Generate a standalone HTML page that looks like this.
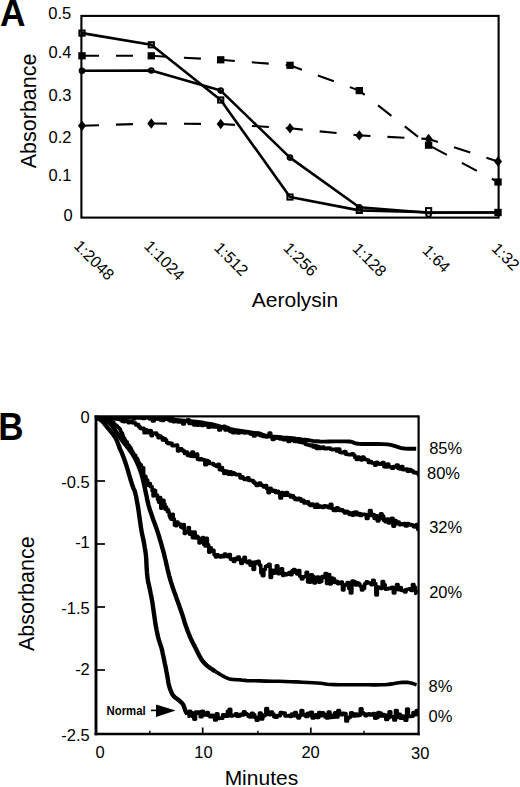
<!DOCTYPE html>
<html><head><meta charset="utf-8"><title>Aerolysin absorbance</title>
<style>
html,body{margin:0;padding:0;background:#fff;}
body{width:520px;height:787px;overflow:hidden;}
svg{display:block;}
text{font-family:"Liberation Sans",sans-serif;fill:#000;}
.t{font-size:16.5px;}
.tr{font-size:16px;}
.ax{font-size:21px;}
.axv{font-size:21.5px;}
.big{font-size:37px;font-weight:bold;}
.bigb{font-size:38.5px;font-weight:bold;}
.nm{font-size:12.5px;font-weight:bold;}
</style></head>
<body>
<svg width="520" height="787" viewBox="0 0 520 787">
<rect width="520" height="787" fill="#fff"/>
<g id="chartA">
<rect x="81.4" y="15.9" width="417.2" height="201.7" fill="none" stroke="#000" stroke-width="2.1"/>
<polyline points="82.0,55.8 151.3,55.8 220.7,59.8 290.0,65.3 359.3,90.6 428.6,145.2 498.0,182.0" fill="none" stroke="#000" stroke-width="2.1" stroke-dasharray="17 17"/>
<polyline points="82.0,125.8 151.3,123.5 220.7,124.0 290.0,128.3 359.3,135.4 428.6,139.0 498.0,161.5" fill="none" stroke="#000" stroke-width="2.1" stroke-dasharray="17 17"/>
<polyline points="82.0,33.1 151.3,44.8 220.7,100.0 290.0,197.0 359.3,210.4 428.6,212.3 498.0,212.5" fill="none" stroke="#000" stroke-width="2.6" stroke-linejoin="round"/>
<polyline points="82.0,70.8 151.3,70.5 220.7,90.6 290.0,157.6 359.3,207.3 428.6,212.8 498.0,212.5" fill="none" stroke="#000" stroke-width="2.6" stroke-linejoin="round"/>
<rect x="78.3" y="52.2" width="7.4" height="7.2" fill="#000"/>
<rect x="147.6" y="52.2" width="7.4" height="7.2" fill="#000"/>
<rect x="217.0" y="56.2" width="7.4" height="7.2" fill="#000"/>
<rect x="286.3" y="61.7" width="7.4" height="7.2" fill="#000"/>
<rect x="355.6" y="87.0" width="7.4" height="7.2" fill="#000"/>
<rect x="424.9" y="141.6" width="7.4" height="7.2" fill="#000"/>
<rect x="494.3" y="178.4" width="7.4" height="7.2" fill="#000"/>
<path d="M82.0 120.6L86.0 125.8L82.0 131.0L78.0 125.8Z" fill="#000"/>
<path d="M151.3 118.3L155.3 123.5L151.3 128.7L147.3 123.5Z" fill="#000"/>
<path d="M220.7 118.8L224.7 124.0L220.7 129.2L216.7 124.0Z" fill="#000"/>
<path d="M290.0 123.1L294.0 128.3L290.0 133.5L286.0 128.3Z" fill="#000"/>
<path d="M359.3 130.2L363.3 135.4L359.3 140.6L355.3 135.4Z" fill="#000"/>
<path d="M428.6 133.8L432.6 139.0L428.6 144.2L424.6 139.0Z" fill="#000"/>
<path d="M498.0 156.3L502.0 161.5L498.0 166.7L494.0 161.5Z" fill="#000"/>
<rect x="79.4" y="30.5" width="5.2" height="5.2" fill="none" stroke="#000" stroke-width="2.0"/>
<rect x="148.7" y="42.2" width="5.2" height="5.2" fill="none" stroke="#000" stroke-width="2.0"/>
<rect x="218.1" y="97.4" width="5.2" height="5.2" fill="none" stroke="#000" stroke-width="2.0"/>
<rect x="287.4" y="194.4" width="5.2" height="5.2" fill="none" stroke="#000" stroke-width="2.0"/>
<rect x="356.7" y="207.8" width="5.2" height="5.2" fill="none" stroke="#000" stroke-width="2.0"/>
<rect x="426.0" y="208.1" width="5.2" height="5.2" fill="#fff" stroke="#000" stroke-width="2.0"/>
<rect x="494.3" y="208.8" width="7.4" height="7.4" fill="#000"/>
<circle cx="82.0" cy="70.8" r="2.35" fill="none" stroke="#000" stroke-width="1.9"/>
<circle cx="151.3" cy="70.5" r="2.35" fill="none" stroke="#000" stroke-width="1.9"/>
<circle cx="220.7" cy="90.6" r="2.35" fill="none" stroke="#000" stroke-width="1.9"/>
<circle cx="290.0" cy="157.6" r="2.35" fill="none" stroke="#000" stroke-width="1.9"/>
<circle cx="359.3" cy="207.3" r="2.35" fill="none" stroke="#000" stroke-width="1.9"/>
<circle cx="428.6" cy="214.4" r="2.35" fill="none" stroke="#000" stroke-width="1.9"/>
<text x="71.3" y="18.8" text-anchor="end" class="t">0.5</text>
<text x="71.4" y="57.5" text-anchor="end" class="t">0.4</text>
<text x="71.4" y="100.6" text-anchor="end" class="t">0.3</text>
<text x="71.4" y="142.5" text-anchor="end" class="t">0.2</text>
<text x="71.4" y="181.2" text-anchor="end" class="t">0.1</text>
<text x="72.8" y="220.7" text-anchor="end" class="t">0</text>
<text transform="translate(72.9,246.7) rotate(45)" class="tr">1:2048</text>
<text transform="translate(143.2,247.0) rotate(45)" class="tr">1:1024</text>
<text transform="translate(213.3,248.8) rotate(45)" class="tr">1:512</text>
<text transform="translate(282.4,248.9) rotate(45)" class="tr">1:256</text>
<text transform="translate(351.5,249.5) rotate(45)" class="tr">1:128</text>
<text transform="translate(421.5,251.5) rotate(45)" class="tr">1:64</text>
<text transform="translate(490.8,249.4) rotate(45)" class="tr">1:32</text>
<text x="295" y="307.4" text-anchor="middle" class="ax">Aerolysin</text>
<text transform="translate(35.8,110.9) rotate(-90)" text-anchor="middle" class="axv">Absorbance</text>
<text transform="translate(0.1,26.1) scale(0.955,1)" class="big">A</text>
</g>
<g id="chartB">
<line x1="96.0" y1="481" x2="105" y2="481" stroke="#000" stroke-width="1.7"/>
<line x1="96.0" y1="544" x2="105" y2="544" stroke="#000" stroke-width="1.7"/>
<line x1="96.0" y1="607" x2="105" y2="607" stroke="#000" stroke-width="1.7"/>
<line x1="96.0" y1="670" x2="105" y2="670" stroke="#000" stroke-width="1.7"/>
<line x1="202.7" y1="734" x2="202.7" y2="727.5" stroke="#000" stroke-width="1.7"/>
<line x1="310.8" y1="734" x2="310.8" y2="727.5" stroke="#000" stroke-width="1.7"/>
<line x1="149.8" y1="734" x2="149.8" y2="730.8" stroke="#000" stroke-width="1.4"/>
<line x1="257.9" y1="734" x2="257.9" y2="730.8" stroke="#000" stroke-width="1.4"/>
<line x1="364.0" y1="734" x2="364.0" y2="730.8" stroke="#000" stroke-width="1.4"/>
<clipPath id="cb"><rect x="96" y="416.4" width="322.6" height="318"/></clipPath><g clip-path="url(#cb)">
<polyline points="96.5,417.0 99.6,417.0 104.0,417.0 109.2,417.0 114.7,417.0 120.1,417.0 125.0,417.1 129.0,417.1 132.5,417.1 135.9,417.1 139.7,417.2 144.2,417.4 150.0,417.8 157.6,418.4 166.8,419.1 176.8,420.0 186.8,420.9 196.1,421.8 203.8,422.8 209.7,423.8 214.5,424.8 218.5,425.9 222.2,427.0 225.9,428.1 230.0,429.0 234.7,429.9 239.7,430.7 244.8,431.5 249.7,432.2 254.0,432.9 257.7,433.5 260.4,434.0 262.2,434.5 263.5,434.9 264.7,435.3 266.3,435.6 268.5,436.0 271.5,436.4 275.0,436.7 278.9,437.0 282.8,437.4 286.6,437.7 290.0,438.0 293.1,438.3 296.1,438.7 299.0,439.0 301.8,439.4 304.5,439.7 307.0,440.0 309.2,440.3 311.0,440.6 312.8,440.9 314.6,441.1 317.0,441.3 320.0,441.5 324.1,441.6 329.1,441.5 334.6,441.4 340.0,441.4 344.9,441.4 348.8,441.5 351.3,441.8 352.7,442.2 353.6,442.6 354.6,443.1 356.0,443.5 358.5,443.8 362.3,444.0 367.2,444.0 372.5,444.0 378.0,444.0 383.1,444.1 387.3,444.4 390.7,444.9 393.5,445.6 396.0,446.4 398.2,447.1 400.4,447.8 402.7,448.3 405.2,448.6 407.8,448.7 410.4,448.7 412.8,448.7 414.8,448.7 416.2,448.7" fill="none" stroke="#000" stroke-width="3.9" stroke-linejoin="round"/>
<polyline points="96.5,419.0 98.1,419.0 98.1,417.4 99.7,417.4 99.7,416.6 101.3,416.6 101.3,415.0 102.9,415.0 102.9,416.2 104.5,416.2 104.5,417.3 106.1,417.3 106.1,416.8 107.7,416.8 107.7,416.0 109.3,416.0 109.3,417.6 110.9,417.6 110.9,418.1 112.5,418.1 112.5,417.1 114.1,417.1 114.1,417.7 115.7,417.7 115.7,417.0 117.3,417.0 117.3,419.1 118.9,419.1 118.9,417.0 120.5,417.0 120.5,416.3 122.1,416.3 122.1,418.1 123.7,418.1 123.7,417.4 125.3,417.4 125.3,415.1 126.9,415.1 126.9,416.4 128.5,416.4 128.5,417.6 130.1,417.6 130.1,416.9 131.7,416.9 131.7,417.4 133.3,417.4 133.3,418.8 134.9,418.8 134.9,417.6 136.5,417.6 136.5,417.2 138.1,417.2 138.1,418.0 139.7,418.0 139.7,417.3 141.3,417.3 141.3,417.8 142.9,417.8 142.9,418.4 144.5,418.4 144.5,416.1 146.1,416.1 146.1,416.9 147.7,416.9 147.7,416.0 149.3,416.0 149.3,418.8 150.9,418.8 150.9,416.1 152.5,416.1 152.5,421.0 154.1,421.0 154.1,417.4 155.6,417.4 155.6,417.7 157.2,417.7 157.2,418.9 158.8,418.9 158.8,417.3 160.4,417.3 160.4,419.9 162.0,419.9 162.0,420.5 163.6,420.5 163.6,416.7 165.2,416.7 165.2,418.9 166.8,418.9 166.8,418.4 168.4,418.4 168.4,419.7 170.0,419.7 170.0,420.8 171.6,420.8 171.6,418.6 173.2,418.6 173.2,421.7 174.7,421.7 174.7,420.9 176.3,420.9 176.3,421.2 177.9,421.2 177.9,421.9 179.5,421.9 179.5,421.4 181.1,421.4 181.1,421.9 182.7,421.9 182.7,423.8 184.3,423.8 184.3,421.1 185.9,421.1 185.9,421.3 187.5,421.3 187.5,419.9 189.1,419.9 189.1,423.4 190.6,423.4 190.6,421.6 192.2,421.6 192.2,422.8 193.8,422.8 193.8,425.0 195.4,425.0 195.4,423.9 197.0,423.9 197.0,425.1 198.6,425.1 198.6,424.9 200.2,424.9 200.2,423.6 201.7,423.6 201.7,425.5 203.3,425.5 203.3,423.9 204.9,423.9 204.9,425.0 206.5,425.0 206.5,423.8 208.1,423.8 208.1,427.2 209.6,427.2 209.6,424.8 211.2,424.8 211.2,424.3 212.8,424.3 212.8,426.9 214.3,426.9 214.3,426.7 215.9,426.7 215.9,426.9 217.4,426.9 217.4,426.9 218.9,426.9 218.9,429.9 220.5,429.9 220.5,427.6 222.0,427.6 222.0,428.2 223.6,428.2 223.6,426.3 225.1,426.3 225.1,430.0 226.7,430.0 226.7,427.7 228.2,427.7 228.2,429.6 229.8,429.6 229.8,431.3 231.4,431.3 231.4,431.8 232.9,431.8 232.9,432.7 234.5,432.7 234.5,431.2 236.1,431.2 236.1,431.0 237.7,431.0 237.7,432.9 239.2,432.9 239.2,432.1 240.8,432.1 240.8,432.5 242.4,432.5 242.4,432.0 244.0,432.0 244.0,432.8 245.6,432.8 245.6,432.4 247.1,432.4 247.1,432.7 248.7,432.7 248.7,432.9 250.3,432.9 250.3,434.0 251.9,434.0 251.9,434.2 253.5,434.2 253.5,435.9 255.0,435.9 255.0,434.7 256.6,434.7 256.6,433.2 258.2,433.2 258.2,433.3 259.8,433.3 259.8,435.4 261.3,435.4 261.3,435.7 262.9,435.7 262.9,436.5 264.4,436.5 264.4,436.5 266.0,436.5 266.0,436.9 267.5,436.9 267.5,436.5 269.1,436.5 269.1,433.2 270.7,433.2 270.7,436.6 272.3,436.6 272.3,439.3 273.9,439.3 273.9,438.3 275.5,438.3 275.5,437.3 277.1,437.3 277.1,438.0 278.7,438.0 278.7,438.4 280.2,438.4 280.2,438.9 281.8,438.9 281.8,438.8 283.4,438.8 283.4,439.7 285.0,439.7 285.0,438.2 286.6,438.2 286.6,439.4 288.2,439.4 288.2,441.5 289.8,441.5 289.8,439.0 291.3,439.0 291.3,440.2 292.9,440.2 292.9,440.4 294.5,440.4 294.5,441.4 296.0,441.4 296.0,441.4 297.6,441.4 297.6,441.1 299.2,441.1 299.2,442.1 300.7,442.1 300.7,441.2 302.3,441.2 302.3,442.7 303.8,442.7 303.8,442.3 305.3,442.3 305.3,444.2 306.9,444.2 306.9,444.7 308.5,444.7 308.5,445.1 310.0,445.1 310.0,445.6 311.5,445.6 311.5,445.1 313.1,445.1 313.1,446.9 314.6,446.9 314.6,445.6 316.2,445.6 316.2,448.3 317.7,448.3 317.7,446.7 319.3,446.7 319.3,448.4 320.9,448.4 320.9,447.8 322.4,447.8 322.4,447.0 324.0,447.0 324.0,448.6 325.6,448.6 325.6,448.6 327.2,448.6 327.2,448.1 328.7,448.1 328.7,448.1 330.3,448.1 330.3,449.2 331.9,449.2 331.9,449.6 333.4,449.6 333.4,449.3 335.0,449.3 335.0,449.0 336.6,449.0 336.6,450.9 338.1,450.9 338.1,449.2 339.7,449.2 339.7,452.2 341.2,452.2 341.2,452.7 342.7,452.7 342.7,452.3 344.2,452.3 344.2,451.5 345.8,451.5 345.8,454.2 347.3,454.2 347.3,454.4 348.8,454.4 348.8,454.7 350.3,454.7 350.3,454.6 351.8,454.6 351.8,453.9 353.3,453.9 353.3,455.0 354.8,455.0 354.8,457.3 356.3,457.3 356.3,459.3 357.8,459.3 357.8,457.0 359.3,457.0 359.3,458.5 360.8,458.5 360.8,459.8 362.4,459.8 362.4,457.0 363.9,457.0 363.9,459.0 365.4,459.0 365.4,459.5 366.9,459.5 366.9,460.0 368.5,460.0 368.5,462.5 370.0,462.5 370.0,461.5 371.5,461.5 371.5,462.8 373.1,462.8 373.1,463.1 374.6,463.1 374.6,465.1 376.1,465.1 376.1,462.4 377.7,462.4 377.7,463.3 379.2,463.3 379.2,464.2 380.8,464.2 380.8,463.8 382.4,463.8 382.4,462.5 383.9,462.5 383.9,466.6 385.5,466.6 385.5,466.9 387.1,466.9 387.1,464.0 388.7,464.0 388.7,466.6 390.2,466.6 390.2,467.0 391.8,467.0 391.8,468.2 393.4,468.2 393.4,466.7 395.0,466.7 395.0,466.9 396.5,466.9 396.5,465.0 398.1,465.0 398.1,468.3 399.7,468.3 399.7,468.9 401.2,468.9 401.2,466.5 402.8,466.5 402.8,469.6 404.3,469.6 404.3,469.7 405.9,469.7 405.9,469.1 407.5,469.1 407.5,471.2 409.0,471.2 409.0,469.7 410.6,469.7 410.6,470.4 412.1,470.4 412.1,471.4 413.7,471.4 413.7,472.7 415.2,472.7 415.2,472.7 416.8,472.7 416.8,473.2 418.4,473.2 418.4,474.8 418.3,472.5" fill="none" stroke="#000" stroke-width="3.7" stroke-linejoin="round"/>
<polyline points="96.5,416.7 98.1,416.7 98.1,416.6 99.7,416.6 99.7,417.7 101.3,417.7 101.3,417.9 102.9,417.9 102.9,418.1 104.5,418.1 104.5,419.8 106.1,419.8 106.1,418.7 107.7,418.7 107.7,420.8 109.3,420.8 109.3,419.6 110.9,419.6 110.9,417.4 112.4,417.4 112.4,417.9 114.0,417.9 114.0,418.8 115.6,418.8 115.6,417.0 117.2,417.0 117.2,418.3 118.8,418.3 118.8,417.0 120.4,417.0 120.4,420.0 122.0,420.0 122.0,421.2 123.5,421.2 123.5,421.6 125.1,421.6 125.1,419.6 126.6,419.6 126.6,420.9 128.2,420.9 128.2,422.6 129.7,422.6 129.7,421.3 131.2,421.3 131.2,421.8 132.7,421.8 132.7,422.8 134.2,422.8 134.2,423.0 135.7,423.0 135.7,424.8 137.1,424.8 137.1,424.5 138.6,424.5 138.6,426.6 139.9,426.6 139.9,428.1 141.3,428.1 141.3,428.7 142.7,428.7 142.7,428.3 144.1,428.3 144.1,432.7 145.5,432.7 145.5,429.9 146.9,429.9 146.9,430.8 148.3,430.8 148.3,432.7 149.7,432.7 149.7,430.5 151.1,430.5 151.1,435.6 152.4,435.6 152.4,433.2 153.8,433.2 153.8,433.4 155.2,433.4 155.2,433.1 156.6,433.1 156.6,434.8 158.1,434.8 158.1,437.6 159.5,437.6 159.5,436.2 160.9,436.2 160.9,437.4 162.4,437.4 162.4,440.0 163.8,440.0 163.8,438.5 165.2,438.5 165.2,440.2 166.6,440.2 166.6,442.5 168.0,442.5 168.0,443.6 169.4,443.6 169.4,443.2 170.7,443.2 170.7,443.4 172.1,443.4 172.1,445.6 173.4,445.6 173.4,445.6 174.8,445.6 174.8,445.4 176.2,445.4 176.2,445.2 177.6,445.2 177.6,450.8 178.9,450.8 178.9,449.2 180.3,449.2 180.3,448.9 181.8,448.9 181.8,450.1 183.2,450.1 183.2,451.2 184.6,451.2 184.6,453.4 186.1,453.4 186.1,452.1 187.5,452.1 187.5,455.3 189.0,455.3 189.0,454.2 190.4,454.2 190.4,456.1 191.9,456.1 191.9,452.0 193.3,452.0 193.3,456.4 194.7,456.4 194.7,454.8 196.2,454.8 196.2,454.2 197.6,454.2 197.6,459.2 199.1,459.2 199.1,459.7 200.5,459.7 200.5,458.9 202.0,458.9 202.0,459.7 203.4,459.7 203.4,459.9 204.9,459.9 204.9,464.7 206.3,464.7 206.3,460.7 207.8,460.7 207.8,461.4 209.2,461.4 209.2,463.4 210.7,463.4 210.7,463.5 212.1,463.5 212.1,463.7 213.6,463.7 213.6,464.8 215.0,464.8 215.0,465.5 216.5,465.5 216.5,466.3 218.0,466.3 218.0,464.3 219.4,464.3 219.4,469.6 220.9,469.6 220.9,467.7 222.4,467.7 222.4,470.5 223.8,470.5 223.8,473.3 225.3,473.3 225.3,471.1 226.8,471.1 226.8,471.6 228.3,471.6 228.3,474.2 229.8,474.2 229.8,471.9 231.3,471.9 231.3,474.3 232.8,474.3 232.8,472.9 234.2,472.9 234.2,473.9 235.7,473.9 235.7,474.6 237.2,474.6 237.2,474.5 238.7,474.5 238.7,474.7 240.1,474.7 240.1,477.8 241.5,477.8 241.5,476.9 243.0,476.9 243.0,478.5 244.4,478.5 244.4,479.4 245.9,479.4 245.9,478.5 247.4,478.5 247.4,477.9 248.8,477.9 248.8,480.4 250.3,480.4 250.3,480.3 251.8,480.3 251.8,480.5 253.3,480.5 253.3,482.2 254.8,482.2 254.8,483.4 256.2,483.4 256.2,485.5 257.7,485.5 257.7,484.5 259.2,484.5 259.2,483.1 260.7,483.1 260.7,485.1 262.2,485.1 262.2,485.6 263.6,485.6 263.6,486.9 265.1,486.9 265.1,485.6 266.6,485.6 266.6,488.5 268.1,488.5 268.1,492.6 269.6,492.6 269.6,488.3 271.1,488.3 271.1,490.2 272.6,490.2 272.6,491.1 274.1,491.1 274.1,490.5 275.5,490.5 275.5,492.4 277.0,492.4 277.0,491.4 278.5,491.4 278.5,493.1 280.0,493.1 280.0,498.0 281.5,498.0 281.5,492.5 283.0,492.5 283.0,494.0 284.5,494.0 284.5,495.2 286.0,495.2 286.0,492.7 287.5,492.7 287.5,495.2 289.0,495.2 289.0,495.0 290.5,495.0 290.5,496.9 292.0,496.9 292.0,495.9 293.5,495.9 293.5,497.7 295.0,497.7 295.0,499.4 296.5,499.4 296.5,499.6 298.0,499.6 298.0,498.4 299.5,498.4 299.5,498.9 301.0,498.9 301.0,501.1 302.5,501.1 302.5,500.4 304.0,500.4 304.0,503.0 305.5,503.0 305.5,502.2 307.0,502.2 307.0,501.9 308.5,501.9 308.5,504.1 310.1,504.1 310.1,505.4 311.6,505.4 311.6,504.1 313.1,504.1 313.1,504.9 314.7,504.9 314.7,507.2 316.2,507.2 316.2,504.4 317.7,504.4 317.7,507.1 319.3,507.1 319.3,506.0 320.8,506.0 320.8,506.8 322.4,506.8 322.4,507.4 323.9,507.4 323.9,505.8 325.5,505.8 325.5,506.0 327.1,506.0 327.1,507.0 328.6,507.0 328.6,507.7 330.2,507.7 330.2,504.4 331.8,504.4 331.8,508.4 333.3,508.4 333.3,510.3 334.9,510.3 334.9,510.4 336.5,510.4 336.5,507.9 338.1,507.9 338.1,509.2 339.6,509.2 339.6,510.5 341.2,510.5 341.2,509.8 342.8,509.8 342.8,511.1 344.4,511.1 344.4,512.8 345.9,512.8 345.9,511.3 347.5,511.3 347.5,512.3 349.1,512.3 349.1,514.3 350.7,514.3 350.7,513.2 352.2,513.2 352.2,515.1 353.8,515.1 353.8,512.4 355.4,512.4 355.4,512.2 356.9,512.2 356.9,514.7 358.5,514.7 358.5,513.7 360.1,513.7 360.1,515.4 361.6,515.4 361.6,514.4 363.2,514.4 363.2,514.3 364.8,514.3 364.8,514.6 366.4,514.6 366.4,518.4 367.9,518.4 367.9,515.6 369.5,515.6 369.5,510.7 371.1,510.7 371.1,515.5 372.6,515.5 372.6,514.5 374.2,514.5 374.2,518.3 375.8,518.3 375.8,515.8 377.3,515.8 377.3,520.8 378.9,520.8 378.9,518.5 380.5,518.5 380.5,513.8 382.0,513.8 382.0,516.2 383.6,516.2 383.6,520.2 385.2,520.2 385.2,521.7 386.7,521.7 386.7,519.2 388.3,519.2 388.3,522.8 389.9,522.8 389.9,520.5 391.4,520.5 391.4,518.3 393.0,518.3 393.0,526.1 394.5,526.1 394.5,520.7 396.1,520.7 396.1,523.7 397.7,523.7 397.7,522.2 399.2,522.2 399.2,524.6 400.8,524.6 400.8,523.8 402.3,523.8 402.3,524.6 403.9,524.6 403.9,523.5 405.5,523.5 405.5,525.9 407.0,525.9 407.0,523.7 408.6,523.7 408.6,525.0 410.1,525.0 410.1,524.5 411.7,524.5 411.7,525.0 413.3,525.0 413.3,526.6 414.8,526.6 414.8,527.0 416.4,527.0 416.4,524.7 417.9,524.7 417.9,529.5 418.3,527.1" fill="none" stroke="#000" stroke-width="3.7" stroke-linejoin="round"/>
<polyline points="96.5,417.1 98.1,417.1 98.1,417.5 99.7,417.5 99.7,418.4 101.3,418.4 101.3,417.7 102.9,417.7 102.9,419.1 104.4,419.1 104.4,418.0 106.0,418.0 106.0,419.9 107.5,419.9 107.5,418.7 108.9,418.7 108.9,419.6 110.4,419.6 110.4,420.7 111.7,420.7 111.7,422.1 112.9,422.1 112.9,422.6 114.0,422.6 114.0,424.4 115.2,424.4 115.2,425.0 116.3,425.0 116.3,426.1 117.5,426.1 117.5,427.3 118.6,427.3 118.6,428.3 119.6,428.3 119.6,429.2 120.4,429.2 120.4,431.2 121.1,431.2 121.1,433.1 121.7,433.1 121.7,433.0 122.4,433.0 122.4,434.9 123.1,434.9 123.1,436.9 123.8,436.9 123.8,438.2 124.7,438.2 124.7,440.2 125.6,440.2 125.6,441.4 126.5,441.4 126.5,442.1 127.4,442.1 127.4,444.4 128.3,444.4 128.3,445.3 129.2,445.3 129.2,446.7 130.1,446.7 130.1,447.6 130.8,447.6 130.8,449.1 131.5,449.1 131.5,450.8 132.2,450.8 132.2,451.8 133.0,451.8 133.0,453.4 133.9,453.4 133.9,455.1 134.8,455.1 134.8,455.3 135.7,455.3 135.7,457.8 136.5,457.8 136.5,458.1 137.2,458.1 137.2,459.5 138.0,459.5 138.0,461.8 138.7,461.8 138.7,462.8 139.4,462.8 139.4,464.1 140.1,464.1 140.1,468.5 140.7,468.5 140.7,464.7 141.4,464.7 141.4,468.3 142.0,468.3 142.0,470.7 142.6,470.7 142.6,470.7 143.1,470.7 143.1,467.7 143.7,467.7 143.7,474.9 144.2,474.9 144.2,481.7 144.8,481.7 144.8,476.7 145.4,476.7 145.4,476.5 146.0,476.5 146.0,479.4 146.8,479.4 146.8,480.1 147.7,480.1 147.7,485.5 148.6,485.5 148.6,485.5 149.5,485.5 149.5,483.6 150.4,483.6 150.4,486.7 151.3,486.7 151.3,486.6 152.1,486.6 152.1,490.9 153.0,490.9 153.0,496.0 153.9,496.0 153.9,490.0 154.7,490.0 154.7,490.5 155.6,490.5 155.6,495.6 156.6,495.6 156.6,494.9 157.5,494.9 157.5,499.6 158.5,499.6 158.5,502.3 159.6,502.3 159.6,497.5 160.7,497.5 160.7,508.2 161.8,508.2 161.8,505.5 162.9,505.5 162.9,500.2 164.0,500.2 164.0,504.0 165.0,504.0 165.0,509.2 165.9,509.2 165.9,506.9 166.6,506.9 166.6,509.5 167.3,509.5 167.3,511.8 167.9,511.8 167.9,509.7 168.5,509.7 168.5,512.1 169.2,512.1 169.2,516.0 170.0,516.0 170.0,518.1 171.0,518.1 171.0,519.3 172.1,519.3 172.1,514.3 173.3,514.3 173.3,519.1 174.4,519.1 174.4,525.2 175.6,525.2 175.6,525.7 176.8,525.7 176.8,522.0 178.0,522.0 178.0,524.0 179.3,524.0 179.3,523.9 180.6,523.9 180.6,527.0 181.8,527.0 181.8,527.8 183.1,527.8 183.1,524.5 184.3,524.5 184.3,533.5 185.5,533.5 185.5,532.5 186.8,532.5 186.8,531.4 188.1,531.4 188.1,527.5 189.4,527.5 189.4,534.2 190.9,534.2 190.9,532.1 192.3,532.1 192.3,537.7 193.8,537.7 193.8,532.1 195.2,532.1 195.2,537.9 196.5,537.9 196.5,536.3 197.8,536.3 197.8,537.5 199.0,537.5 199.0,543.0 200.2,543.0 200.2,542.2 201.4,542.2 201.4,540.3 202.5,540.3 202.5,537.5 203.7,537.5 203.7,544.6 204.9,544.6 204.9,546.1 206.1,546.1 206.1,538.3 207.4,538.3 207.4,544.8 208.7,544.8 208.7,552.3 210.0,552.3 210.0,547.7 211.3,547.7 211.3,551.3 212.6,551.3 212.6,550.3 214.0,550.3 214.0,554.7 215.4,554.7 215.4,557.1 216.8,557.1 216.8,554.7 218.3,554.7 218.3,556.5 219.8,556.5 219.8,557.1 221.3,557.1 221.3,555.6 222.8,555.6 222.8,556.8 224.4,556.8 224.4,553.9 225.9,553.9 225.9,556.0 227.4,556.0 227.4,556.7 228.9,556.7 228.9,554.6 230.4,554.6 230.4,559.2 231.8,559.2 231.8,558.9 233.3,558.9 233.3,561.6 234.8,561.6 234.8,558.5 236.2,558.5 236.2,559.5 237.7,559.5 237.7,557.1 239.3,557.1 239.3,559.8 240.8,559.8 240.8,563.4 242.3,563.4 242.3,561.4 243.9,561.4 243.9,557.3 245.4,557.3 245.4,561.5 247.0,561.5 247.0,562.7 248.5,562.7 248.5,560.9 250.0,560.9 250.0,565.2 251.5,565.2 251.5,562.3 253.0,562.3 253.0,569.4 254.6,569.4 254.6,562.0 256.1,562.0 256.1,563.3 257.7,563.3 257.7,561.3 259.2,561.3 259.2,565.0 260.8,565.0 260.8,572.9 262.3,572.9 262.3,575.7 263.9,575.7 263.9,569.6 265.4,569.6 265.4,566.5 267.0,566.5 267.0,565.5 268.5,565.5 268.5,564.2 270.1,564.2 270.1,577.5 271.6,577.5 271.6,570.3 273.2,570.3 273.2,573.2 274.8,573.2 274.8,570.2 276.3,570.2 276.3,565.7 277.9,565.7 277.9,573.8 279.4,573.8 279.4,570.4 281.0,570.4 281.0,568.8 282.6,568.8 282.6,575.5 284.1,575.5 284.1,573.4 285.7,573.4 285.7,574.7 287.3,574.7 287.3,574.2 288.8,574.2 288.8,572.6 290.4,572.6 290.4,574.8 292.0,574.8 292.0,570.4 293.5,570.4 293.5,569.5 295.1,569.5 295.1,572.5 296.7,572.5 296.7,573.9 298.2,573.9 298.2,570.4 299.8,570.4 299.8,576.4 301.4,576.4 301.4,578.9 302.9,578.9 302.9,576.9 304.5,576.9 304.5,576.2 306.1,576.2 306.1,572.2 307.6,572.2 307.6,582.1 309.2,582.1 309.2,582.2 310.8,582.2 310.8,574.7 312.4,574.7 312.4,576.6 313.9,576.6 313.9,583.0 315.5,583.0 315.5,577.4 317.1,577.4 317.1,576.9 318.7,576.9 318.7,582.3 320.2,582.3 320.2,581.6 321.8,581.6 321.8,576.4 323.4,576.4 323.4,577.6 325.0,577.6 325.0,573.5 326.5,573.5 326.5,583.4 328.1,583.4 328.1,574.6 329.7,574.6 329.7,584.0 331.3,584.0 331.3,577.9 332.9,577.9 332.9,578.7 334.4,578.7 334.4,582.6 336.0,582.6 336.0,581.3 337.6,581.3 337.6,583.8 339.2,583.8 339.2,582.6 340.8,582.6 340.8,582.1 342.4,582.1 342.4,590.0 344.0,590.0 344.0,585.4 345.5,585.4 345.5,584.5 347.1,584.5 347.1,582.6 348.7,582.6 348.7,588.4 350.3,588.4 350.3,592.9 351.9,592.9 351.9,580.9 353.5,580.9 353.5,581.4 355.1,581.4 355.1,585.0 356.7,585.0 356.7,582.7 358.2,582.7 358.2,583.8 359.8,583.8 359.8,586.1 361.4,586.1 361.4,590.0 363.0,590.0 363.0,588.4 364.6,588.4 364.6,583.7 366.2,583.7 366.2,581.7 367.8,581.7 367.8,582.9 369.4,582.9 369.4,582.9 371.0,582.9 371.0,584.7 372.6,584.7 372.6,580.2 374.2,580.2 374.2,583.6 375.8,583.6 375.8,595.0 377.4,595.0 377.4,587.0 378.9,587.0 378.9,587.5 380.5,587.5 380.5,588.4 382.1,588.4 382.1,581.5 383.7,581.5 383.7,584.8 385.3,584.8 385.3,589.2 386.9,589.2 386.9,588.9 388.5,588.9 388.5,588.3 390.1,588.3 390.1,588.6 391.7,588.6 391.7,587.2 393.3,587.2 393.3,593.0 394.9,593.0 394.9,588.9 396.5,588.9 396.5,584.4 398.1,584.4 398.1,589.8 399.7,589.8 399.7,587.4 401.3,587.4 401.3,590.6 402.9,590.6 402.9,590.5 404.5,590.5 404.5,592.1 406.0,592.1 406.0,589.6 407.6,589.6 407.6,589.2 409.2,589.2 409.2,588.7 410.8,588.7 410.8,590.4 412.4,590.4 412.4,584.5 414.0,584.5 414.0,587.2 415.6,587.2 415.6,593.4 417.0,589.8" fill="none" stroke="#000" stroke-width="3.5" stroke-linejoin="round"/>
<polyline points="96.5,417.5 97.0,417.6 97.6,417.7 98.4,417.8 99.3,417.9 100.1,418.1 101.0,418.3 101.9,418.6 102.8,418.8 103.7,419.2 104.7,419.5 105.6,420.0 106.5,420.5 107.4,421.1 108.2,421.7 109.1,422.5 109.9,423.3 110.7,424.1 111.5,425.0 112.3,426.0 113.1,427.1 113.8,428.3 114.6,429.5 115.3,430.7 116.0,431.7 116.6,432.6 117.3,433.4 117.8,434.1 118.4,434.8 119.0,435.6 119.5,436.3 120.0,437.1 120.5,437.8 121.0,438.6 121.5,439.4 122.0,440.1 122.5,440.9 123.1,441.7 123.7,442.5 124.4,443.3 125.0,444.1 125.7,444.8 126.2,445.5 126.7,446.1 127.0,446.6 127.4,447.0 127.7,447.5 128.1,448.0 128.5,448.5 129.0,449.1 129.4,449.7 130.0,450.4 130.5,451.1 131.0,451.8 131.5,452.5 132.0,453.3 132.5,454.1 133.0,454.9 133.5,455.7 134.0,456.6 134.5,457.5 135.0,458.4 135.5,459.4 136.0,460.3 136.5,461.4 137.0,462.4 137.5,463.5 138.0,464.6 138.5,465.8 139.0,467.1 139.5,468.3 140.0,469.6 140.5,471.0 140.9,472.4 141.4,473.8 141.8,475.2 142.2,476.7 142.6,478.3 143.0,480.0 143.5,481.9 143.9,484.0 144.4,486.1 144.9,488.4 145.3,490.6 145.8,492.7 146.2,494.8 146.7,496.8 147.1,498.9 147.5,500.9 148.0,502.9 148.5,505.0 149.1,507.1 149.7,509.2 150.4,511.2 151.1,513.3 151.8,515.4 152.5,517.5 153.2,519.6 154.0,521.6 154.8,523.7 155.5,525.8 156.3,527.9 157.0,530.0 157.7,532.1 158.4,534.3 159.1,536.5 159.7,538.6 160.4,540.8 161.0,543.0 161.6,545.2 162.2,547.3 162.8,549.5 163.4,551.7 164.0,553.8 164.5,556.0 165.0,558.2 165.6,560.5 166.1,562.8 166.6,565.0 167.1,567.1 167.5,569.0 167.9,570.6 168.2,571.9 168.5,573.1 168.8,574.3 169.1,575.6 169.5,577.0 170.0,578.6 170.5,580.3 171.0,582.1 171.6,583.9 172.2,585.8 172.8,587.7 173.5,589.7 174.2,591.8 175.0,593.9 175.8,596.1 176.5,598.3 177.3,600.4 178.1,602.5 178.8,604.6 179.6,606.8 180.3,608.9 181.1,611.0 181.8,613.1 182.5,615.2 183.1,617.3 183.8,619.4 184.4,621.6 185.1,623.7 185.8,625.8 186.6,628.0 187.4,630.2 188.2,632.4 189.1,634.5 189.9,636.6 190.8,638.6 191.7,640.5 192.5,642.3 193.4,644.0 194.3,645.6 195.1,647.2 195.9,648.7 196.6,650.2 197.3,651.5 197.9,652.9 198.5,654.1 199.1,655.3 199.7,656.4 200.3,657.4 200.8,658.3 201.3,659.1 201.8,659.9 202.4,660.7 203.0,661.5 203.7,662.3 204.4,663.1 205.1,663.8 205.9,664.6 206.7,665.4 207.7,666.2 208.8,667.0 210.0,667.9 211.3,668.8 212.6,669.7 214.0,670.6 215.4,671.5" fill="none" stroke="#000" stroke-width="4.4" stroke-linejoin="round"/>
<polyline points="215.4,671.5 216.9,672.4 218.5,673.4 220.1,674.4 221.7,675.3 223.2,676.2 224.6,676.9 225.8,677.5 226.8,678.0 227.7,678.3 228.6,678.7 229.6,678.9 230.8,679.2 232.2,679.4 233.6,679.5 235.2,679.6 236.8,679.7 238.4,679.8 240.0,679.9 241.3,680.0 242.3,680.2 243.4,680.3 244.8,680.4 246.9,680.6 250.0,680.7 254.4,680.8 259.9,680.9 266.1,681.1 272.6,681.2 279.0,681.3 285.0,681.5 290.8,681.7 296.7,681.9 302.5,682.2 308.0,682.5 313.0,682.7 317.3,683.0 320.5,683.3 322.6,683.5 324.2,683.8 325.8,684.1 327.9,684.3 330.8,684.5 334.8,684.6 339.5,684.7 344.7,684.7 350.0,684.7 355.2,684.7 360.0,684.7 364.4,684.7 368.7,684.8 372.9,684.9 376.9,684.9 380.8,684.8 384.6,684.7 388.3,684.4 392.0,683.9 395.5,683.3 398.9,682.8 402.0,682.4 404.8,682.2 407.4,682.4 409.8,682.8 412.0,683.3 413.9,683.9 415.4,684.4 416.6,684.7" fill="none" stroke="#000" stroke-width="3.6" stroke-linejoin="round"/>
<polyline points="96.5,417.5 97.1,417.9 98.0,418.3 99.0,418.9 100.1,419.6 101.1,420.3 102.1,421.1 103.0,422.0 103.8,422.9 104.7,424.0 105.5,425.1 106.4,426.2 107.2,427.2 108.1,428.2 108.9,429.2 109.8,430.2 110.7,431.3 111.5,432.3 112.3,433.3 113.0,434.3 113.7,435.3 114.4,436.2 115.1,437.2 115.7,438.3 116.3,439.4 116.9,440.6 117.4,442.0 117.9,443.3 118.4,444.7 118.9,446.1 119.4,447.5 120.0,448.8 120.5,450.1 121.1,451.4 121.7,452.7 122.3,454.1 122.9,455.6 123.5,457.2 124.1,458.8 124.7,460.6 125.3,462.3 125.9,464.1 126.5,465.8 127.0,467.5 127.5,469.2 128.0,470.9 128.5,472.6 129.0,474.3 129.5,476.0 130.0,477.7 130.5,479.5 131.1,481.3 131.6,483.0 132.1,484.6 132.6,486.1 133.1,487.3 133.5,488.3 133.9,489.2 134.4,490.2 134.8,491.3 135.2,492.7 135.6,494.5 136.1,496.5 136.5,498.7 136.9,500.9 137.3,503.2 137.7,505.4 138.1,507.5 138.4,509.6 138.7,511.8 139.0,513.9 139.3,516.0 139.6,518.1 139.9,520.2 140.2,522.3 140.5,524.4 140.8,526.6 141.1,528.7 141.5,530.8 141.9,532.9 142.3,535.1 142.8,537.2 143.3,539.3 143.7,541.5 144.1,543.6 144.5,545.7 144.8,547.8 145.2,550.0 145.5,552.1 145.8,554.2 146.0,556.3 146.2,558.4 146.3,560.6 146.4,562.8 146.5,564.9 146.6,567.0 146.7,569.0 146.9,571.0 147.0,572.9 147.2,574.8 147.4,576.6 147.6,578.4 147.8,580.0 148.0,581.4 148.3,582.6 148.6,583.7 148.9,584.9 149.2,586.2 149.5,587.7 149.9,589.5 150.3,591.6 150.7,593.7 151.2,596.0 151.6,598.2 152.0,600.4 152.4,602.5 152.7,604.6 153.0,606.8 153.3,608.9 153.6,611.0 153.9,613.1 154.2,615.2 154.5,617.3 154.8,619.4 155.1,621.6 155.4,623.7 155.8,625.8 156.2,628.0 156.6,630.2 157.1,632.4 157.5,634.6 158.0,636.7 158.5,638.6 159.0,640.4 159.5,641.9 160.0,643.4 160.5,644.9 161.0,646.4 161.5,648.0 161.9,649.6 162.3,651.2 162.6,652.9 163.0,654.6 163.4,656.5 163.8,658.5 164.3,660.8 164.8,663.4 165.4,666.0 165.9,668.7 166.4,671.4 166.9,673.8 167.3,676.1 167.7,678.3 168.0,680.4 168.3,682.4 168.7,684.4 169.2,686.2 169.7,688.0 170.3,689.7 171.0,691.3 171.6,692.8 172.3,694.2 173.1,695.4 173.9,696.4 174.8,697.3 175.8,698.0 176.7,698.6 177.6,699.3 178.5,700.0 179.3,700.7 180.2,701.5 181.0,702.2 181.8,702.9 182.5,703.7 183.1,704.6 183.6,705.6 184.0,706.6 184.4,707.8 184.7,708.9 185.1,709.9 185.4,710.8 185.8,711.6 186.2,712.4 186.6,713.0 187.0,713.6 187.3,714.1 187.5,714.5" fill="none" stroke="#000" stroke-width="4.4" stroke-linejoin="round"/>
<polyline points="187.5,716.1 189.1,716.1 189.1,711.3 190.7,711.3 190.7,712.7 192.3,712.7 192.3,716.2 193.9,716.2 193.9,719.1 195.5,719.1 195.5,712.2 197.1,712.2 197.1,713.2 198.7,713.2 198.7,712.0 200.3,712.0 200.3,716.7 201.9,716.7 201.9,711.4 203.5,711.4 203.5,713.5 205.1,713.5 205.1,715.0 206.7,715.0 206.7,712.5 208.3,712.5 208.3,715.4 209.9,715.4 209.9,716.7 211.5,716.7 211.5,715.4 213.1,715.4 213.1,716.3 214.7,716.3 214.7,720.0 216.3,720.0 216.3,713.9 217.9,713.9 217.9,718.4 219.5,718.4 219.5,718.0 221.1,718.0 221.1,718.2 222.7,718.2 222.7,714.8 224.3,714.8 224.3,715.2 225.9,715.2 225.9,716.2 227.5,716.2 227.5,711.3 229.1,711.3 229.1,709.4 230.7,709.4 230.7,716.0 232.3,716.0 232.3,715.5 233.9,715.5 233.9,715.2 235.5,715.2 235.5,713.9 237.1,713.9 237.1,716.2 238.7,716.2 238.7,715.8 240.3,715.8 240.3,714.3 241.9,714.3 241.9,715.0 243.5,715.0 243.5,711.9 245.1,711.9 245.1,713.6 246.7,713.6 246.7,714.6 248.3,714.6 248.3,716.3 249.9,716.3 249.9,717.0 251.5,717.0 251.5,713.4 253.1,713.4 253.1,714.8 254.7,714.8 254.7,717.3 256.3,717.3 256.3,720.2 257.9,720.2 257.9,717.4 259.5,717.4 259.5,713.0 261.1,713.0 261.1,718.9 262.7,718.9 262.7,716.0 264.3,716.0 264.3,714.9 265.9,714.9 265.9,708.6 267.5,708.6 267.5,712.0 269.1,712.0 269.1,714.6 270.7,714.6 270.7,712.0 272.3,712.0 272.3,714.2 273.9,714.2 273.9,716.7 275.5,716.7 275.5,717.2 277.1,717.2 277.1,715.6 278.7,715.6 278.7,715.7 280.3,715.7 280.3,712.6 281.9,712.6 281.9,713.3 283.5,713.3 283.5,713.0 285.1,713.0 285.1,716.0 286.7,716.0 286.7,716.0 288.3,716.0 288.3,715.7 289.9,715.7 289.9,716.3 291.5,716.3 291.5,714.1 293.1,714.1 293.1,715.7 294.7,715.7 294.7,712.6 296.3,712.6 296.3,715.8 297.9,715.8 297.9,717.8 299.5,717.8 299.5,715.3 301.1,715.3 301.1,710.6 302.7,710.6 302.7,715.0 304.3,715.0 304.3,714.5 305.9,714.5 305.9,716.5 307.5,716.5 307.5,713.4 309.1,713.4 309.1,715.5 310.7,715.5 310.7,712.3 312.3,712.3 312.3,717.9 313.9,717.9 313.9,715.8 315.5,715.8 315.5,714.9 317.1,714.9 317.1,717.5 318.7,717.5 318.7,712.7 320.3,712.7 320.3,715.6 321.9,715.6 321.9,712.8 323.5,712.8 323.5,714.4 325.1,714.4 325.1,717.0 326.7,717.0 326.7,717.9 328.3,717.9 328.3,712.0 329.9,712.0 329.9,717.4 331.5,717.4 331.5,715.3 333.1,715.3 333.1,717.1 334.7,717.1 334.7,712.9 336.3,712.9 336.3,717.0 337.9,717.0 337.9,710.5 339.5,710.5 339.5,713.4 341.1,713.4 341.1,714.6 342.7,714.6 342.7,713.4 344.3,713.4 344.3,713.5 345.9,713.5 345.9,721.0 347.5,721.0 347.5,717.9 349.1,717.9 349.1,717.0 350.7,717.0 350.7,712.8 352.3,712.8 352.3,713.8 353.9,713.8 353.9,715.9 355.5,715.9 355.5,714.1 357.1,714.1 357.1,715.6 358.7,715.6 358.7,715.2 360.3,715.2 360.3,708.8 361.9,708.8 361.9,712.9 363.5,712.9 363.5,713.8 365.1,713.8 365.1,715.6 366.7,715.6 366.7,714.3 368.3,714.3 368.3,713.9 369.9,713.9 369.9,715.0 371.5,715.0 371.5,714.6 373.1,714.6 373.1,713.6 374.7,713.6 374.7,718.1 376.3,718.1 376.3,717.4 377.9,717.4 377.9,712.7 379.5,712.7 379.5,713.0 381.1,713.0 381.1,716.0 382.7,716.0 382.7,714.6 384.3,714.6 384.3,715.0 385.9,715.0 385.9,719.4 387.5,719.4 387.5,717.7 389.1,717.7 389.1,711.8 390.7,711.8 390.7,716.7 392.3,716.7 392.3,716.8 393.9,716.8 393.9,719.9 395.5,719.9 395.5,710.6 397.1,710.6 397.1,717.1 398.7,717.1 398.7,714.4 400.3,714.4 400.3,718.2 401.9,718.2 401.9,716.0 403.5,716.0 403.5,718.0 405.1,718.0 405.1,720.2 406.7,720.2 406.7,709.1 408.3,709.1 408.3,716.4 409.9,716.4 409.9,716.3 411.5,716.3 411.5,716.1 413.1,716.1 413.1,712.6 414.7,712.6 414.7,714.7 416.3,714.7 416.3,710.7 417.9,710.7 417.9,714.8 418.0,715.7" fill="none" stroke="#000" stroke-width="3.7" stroke-linejoin="round"/>
</g>
<line x1="96.0" y1="415.4" x2="96.0" y2="735.2" stroke="#000" stroke-width="2.9"/>
<line x1="94.6" y1="416.4" x2="419.6" y2="416.4" stroke="#000" stroke-width="2.3"/>
<line x1="418.6" y1="416.4" x2="418.6" y2="735.2" stroke="#000" stroke-width="2.2"/>
<line x1="94.6" y1="734" x2="419.70000000000005" y2="734" stroke="#000" stroke-width="2.4"/>
<text x="89.8" y="422.6" text-anchor="end" class="t">0</text>
<text x="89.8" y="487.5" text-anchor="end" class="t">-0.5</text>
<text x="89.8" y="548.1" text-anchor="end" class="t">-1</text>
<text x="89.8" y="613.5" text-anchor="end" class="t">-1.5</text>
<text x="89.8" y="675.4" text-anchor="end" class="t">-2</text>
<text x="89.8" y="741.1" text-anchor="end" class="t">-2.5</text>
<text x="100.0" y="757.6" text-anchor="middle" class="t">0</text>
<text x="203.5" y="757.8" text-anchor="middle" class="t">10</text>
<text x="310.6" y="757.8" text-anchor="middle" class="t">20</text>
<text x="420.3" y="758.8" text-anchor="middle" class="t">30</text>
<text x="429.2" y="454" class="t">85%</text>
<text x="427.0" y="479.2" class="t">80%</text>
<text x="429.2" y="532.5" class="t">32%</text>
<text x="429.2" y="597.7" class="t">20%</text>
<text x="428.6" y="692.2" class="t">8%</text>
<text x="428.6" y="722" class="t">0%</text>
<text x="261.4" y="785.3" text-anchor="middle" class="ax">Minutes</text>
<text transform="translate(34.3,593.7) rotate(-90)" text-anchor="middle" class="axv">Absorbance</text>
<text transform="translate(-1.7,439.6) scale(0.91,1)" class="bigb">B</text>
<text transform="translate(106.5,715) scale(0.91,1)" class="nm">Normal</text>
<line x1="151" y1="710.4" x2="158" y2="710.4" stroke="#000" stroke-width="1.6"/>
<path d="M156 704.4L175.6 710.6L156 716.9Z" fill="#000"/>
</g>
</svg>
</body></html>
